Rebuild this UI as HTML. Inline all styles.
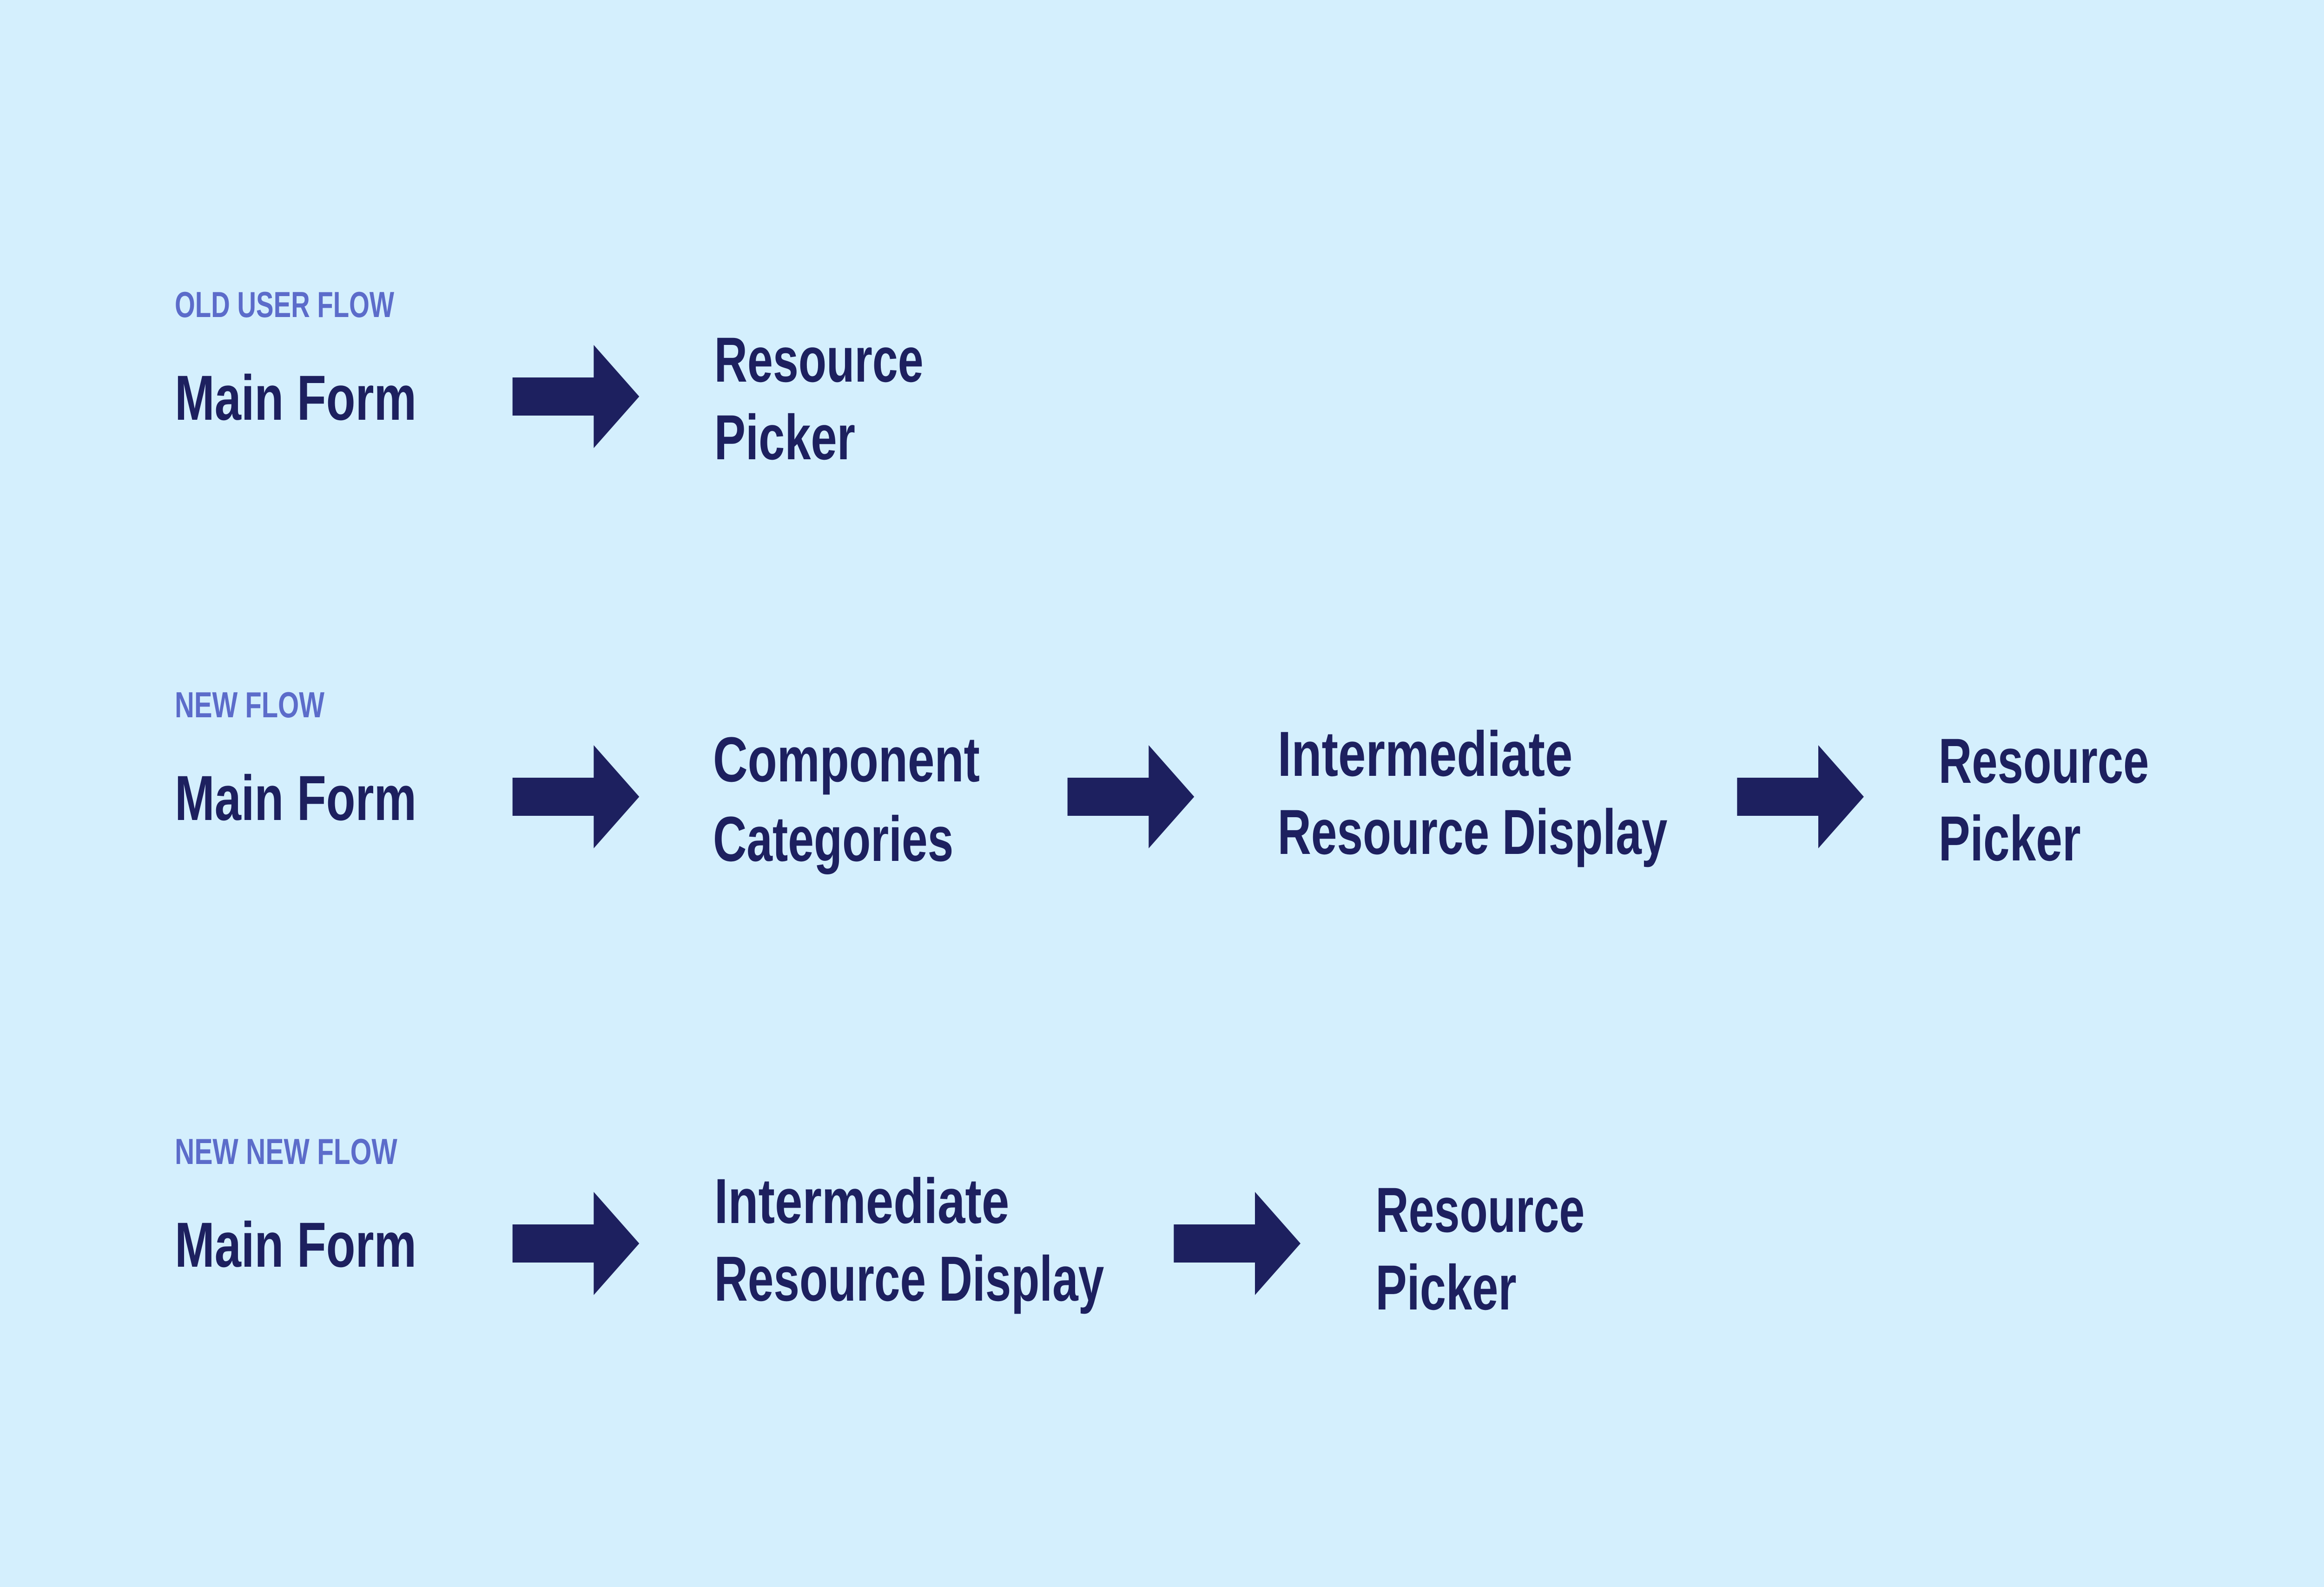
<!DOCTYPE html>
<html><head><meta charset="utf-8"><style>
html,body{margin:0;padding:0;background:#d4effd;width:100%;height:100%;overflow:hidden;}
svg{display:block;width:100vw;height:100vh;}
text{font-family:"Liberation Sans",sans-serif;font-weight:bold;}
.t{fill:#1d205f;font-size:137px;}
.l{fill:#5c6cca;font-size:78px;}
</style></head><body>
<svg viewBox="0 0 7500 3414" preserveAspectRatio="none" xmlns="http://www.w3.org/2000/svg">
<rect width="7500" height="3414" fill="#d4effd"/>
<defs>
<path id="arr" d="M0,-41 H262 V-111 L409,0 L262,111 V41 H0 Z" fill="#1d205f"/>
</defs>
<!-- Row 1 -->
<text class="l" x="564" y="682" textLength="708" lengthAdjust="spacingAndGlyphs">OLD USER FLOW</text>
<text class="t" x="564" y="903" textLength="780" lengthAdjust="spacingAndGlyphs">Main Form</text>
<use href="#arr" x="1654" y="853"/>
<text class="t" x="2305" y="821" textLength="675" lengthAdjust="spacingAndGlyphs">Resource</text>
<text class="t" x="2305" y="988" textLength="455" lengthAdjust="spacingAndGlyphs">Picker</text>
<!-- Row 2 -->
<text class="l" x="564" y="1543" textLength="483" lengthAdjust="spacingAndGlyphs">NEW FLOW</text>
<text class="t" x="564" y="1764" textLength="780" lengthAdjust="spacingAndGlyphs">Main Form</text>
<use href="#arr" x="1654" y="1714"/>
<text class="t" x="2301" y="1681" textLength="861" lengthAdjust="spacingAndGlyphs">Component</text>
<text class="t" x="2301" y="1852" textLength="776" lengthAdjust="spacingAndGlyphs">Categories</text>
<use href="#arr" x="3445" y="1714"/>
<text class="t" x="4123" y="1669" textLength="952" lengthAdjust="spacingAndGlyphs">Intermediate</text>
<text class="t" x="4123" y="1837" textLength="1258" lengthAdjust="spacingAndGlyphs">Resource Display</text>
<use href="#arr" x="5606" y="1714"/>
<text class="t" x="6256" y="1684" textLength="679" lengthAdjust="spacingAndGlyphs">Resource</text>
<text class="t" x="6256" y="1851" textLength="459" lengthAdjust="spacingAndGlyphs">Picker</text>
<!-- Row 3 -->
<text class="l" x="564" y="2504" textLength="718" lengthAdjust="spacingAndGlyphs">NEW NEW FLOW</text>
<text class="t" x="564" y="2725" textLength="780" lengthAdjust="spacingAndGlyphs">Main Form</text>
<use href="#arr" x="1654" y="2675"/>
<text class="t" x="2305" y="2631" textLength="952" lengthAdjust="spacingAndGlyphs">Intermediate</text>
<text class="t" x="2305" y="2798" textLength="1258" lengthAdjust="spacingAndGlyphs">Resource Display</text>
<use href="#arr" x="3788" y="2675"/>
<text class="t" x="4439" y="2650" textLength="675" lengthAdjust="spacingAndGlyphs">Resource</text>
<text class="t" x="4439" y="2817" textLength="455" lengthAdjust="spacingAndGlyphs">Picker</text>
</svg>
</body></html>
